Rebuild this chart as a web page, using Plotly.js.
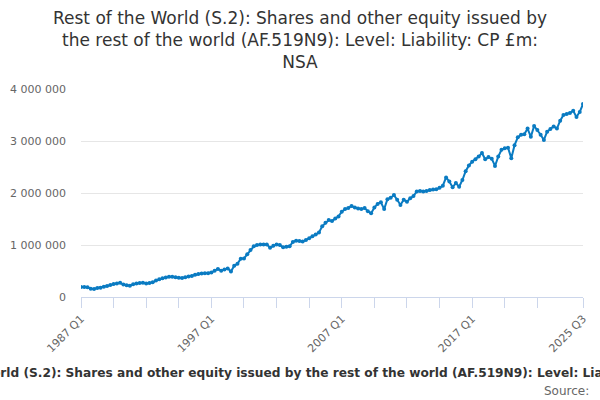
<!DOCTYPE html>
<html>
<head>
<meta charset="utf-8">
<script src="https://cdn.plot.ly/plotly-3.0.1.min.js"></script>
<style>
  html, body { margin: 0; padding: 0; background: #ffffff; }
  #chart { width: 600px; height: 400px; }
</style>
</head>
<body>
<div id="chart"></div>
<script>
// Quarter labels 1987 Q1 .. 2025 Q3
const startYear = 1987;
const endYear = 2025;
const endQuarter = 3;
const quarters = [];
for (let y = startYear; y <= endYear; y++) {
  for (let q = 1; q <= 4; q++) {
    if (y === endYear && q > endQuarter) break;
    quarters.push(y + ' Q' + q);
  }
}

// Level, £m
const values = [
  190000, 192000, 188000, 160000, 155000, 172000, 180000, 195000, 210000, 232000,
  248000, 262000, 272000, 240000, 225000, 218000, 245000, 262000, 270000, 272000,
  262000, 268000, 282000, 315000, 340000, 362000, 375000, 388000, 390000, 382000,
  372000, 365000, 378000, 395000, 405000, 428000, 442000, 450000, 455000, 458000,
  470000, 505000, 540000, 505000, 530000, 550000, 490000, 600000, 640000, 735000,
  742000, 820000, 905000, 975000, 1000000, 1008000, 1010000, 1012000, 945000, 985000,
  1010000, 1002000, 955000, 965000, 975000, 1060000, 1080000, 1078000, 1065000, 1095000,
  1130000, 1170000, 1200000, 1240000, 1360000, 1430000, 1480000, 1460000, 1510000, 1550000,
  1640000, 1690000, 1710000, 1750000, 1720000, 1700000, 1690000, 1710000, 1650000, 1610000,
  1720000, 1790000, 1820000, 1690000, 1880000, 1910000, 1960000, 1870000, 1770000, 1870000,
  1830000, 1900000, 1940000, 2030000, 2040000, 2030000, 2040000, 2060000, 2065000, 2070000,
  2100000, 2140000, 2300000, 2220000, 2110000, 2190000, 2120000, 2250000, 2420000, 2530000,
  2600000, 2650000, 2700000, 2770000, 2650000, 2690000, 2660000, 2520000, 2700000, 2830000,
  2860000, 2870000, 2670000, 2920000, 3070000, 3120000, 3130000, 3240000, 3080000, 3290000,
  3210000, 3120000, 3020000, 3180000, 3230000, 3280000, 3240000, 3390000, 3500000, 3520000,
  3540000, 3580000, 3460000, 3560000, 3710000
];

const yTicks = [0, 1000000, 2000000, 3000000, 4000000];
const xTickVals = ['1987 Q1','1989 Q3','1992 Q1','1994 Q3','1997 Q1','1999 Q3','2002 Q1','2004 Q3',
                   '2007 Q1','2009 Q3','2012 Q1','2014 Q3','2017 Q1','2019 Q3','2022 Q1','2025 Q3'];
const xLabelled = ['1987 Q1','1997 Q1','2007 Q1','2017 Q1','2025 Q3'];
const xTickText = xTickVals.map(v => xLabelled.includes(v) ? v : '');

const titleText = 'Rest of the World (S.2): Shares and other equity issued by the rest of the world (AF.519N9): Level: Liability: CP £m: NSA';
const titleWrapped = 'Rest of the World (S.2): Shares and other equity issued by<br>the rest of the world (AF.519N9): Level: Liability: CP £m:<br>NSA';

const lineColor = '#0a7bc2';
const font = 'DejaVu Sans, sans-serif';

const trace = {
  type: 'scatter',
  mode: 'lines+markers',
  x: quarters,
  y: values,
  line: { color: lineColor, width: 2 },
  marker: { color: lineColor, size: 4 },
  hoverinfo: 'x+y'
};

const layout = {
  width: 600,
  height: 400,
  margin: { l: 81, r: 17, t: 89, b: 103 },
  paper_bgcolor: '#ffffff',
  plot_bgcolor: '#ffffff',
  separators: '. ',
  showlegend: false,
  font: { family: font, color: '#333333' },
  title: {
    text: titleWrapped,
    x: 0.5, xanchor: 'center',
    y: 0.94, yanchor: 'top', yref: 'container',
    font: { family: font, size: 17, color: '#333333' }
  },
  xaxis: {
    type: 'category',
    range: [0, quarters.length - 1],
    tickmode: 'array',
    tickvals: xTickVals,
    ticktext: xTickText,
    tickangle: -45,
    ticks: 'outside',
    ticklen: 10,
    tickcolor: '#ccd6eb',
    tickwidth: 1,
    showline: true,
    linecolor: '#ccd6eb',
    linewidth: 1,
    showgrid: false,
    zeroline: false,
    tickfont: { family: font, size: 11, color: '#666666' },
    fixedrange: true
  },
  yaxis: {
    range: [0, 4000000],
    tickmode: 'array',
    tickvals: yTicks,
    tickformat: ',d',
    ticks: '',
    ticklabelstandoff: 14,
    showgrid: true,
    gridcolor: '#e6e6e6',
    gridwidth: 1,
    zeroline: false,
    showline: false,
    tickfont: { family: font, size: 11, color: '#666666' },
    fixedrange: true
  },
  annotations: [
    {
      text: '<b>' + titleText + '</b>',
      xref: 'paper', yref: 'paper',
      x: 0.464, xanchor: 'center',
      y: -0.365, yanchor: 'middle',
      showarrow: false,
      font: { family: font, size: 12.2, color: '#333333' }
    },
    {
      text: 'Source:',
      xref: 'paper', yref: 'paper',
      x: 1.016, xanchor: 'right',
      y: -0.452, yanchor: 'middle',
      showarrow: false,
      font: { family: font, size: 12, color: '#666666' }
    }
  ]
};

Plotly.newPlot('chart', [trace], layout, { displayModeBar: false, staticPlot: true });
</script>
</body>
</html>
